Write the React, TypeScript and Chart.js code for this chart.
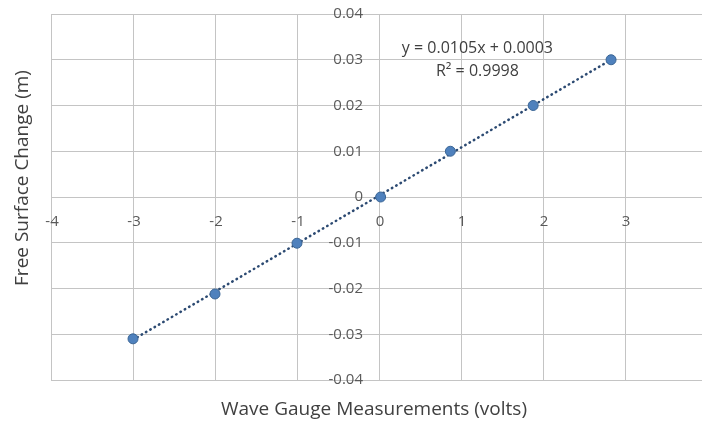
import React, { useEffect, useRef } from "react";
import { Chart, registerables } from "chart.js";

Chart.register(...registerables);

const gaugeVolts = [-3, -2, -1, 0.02, 0.87, 1.88, 2.83];
const surfaceChange = [-0.031, -0.0212, -0.0101, 0.0, 0.01, 0.02, 0.03];
const trendVolts = [-3, 2.83];
const trendChange = [-0.0312, 0.0300];
const xRange = [-4, 4];
const yRange = [-0.04, 0.04];
const equationLines = ["y = 0.0105x + 0.0003", "R² = 0.9998"];
const equationAnchorX = 1.2;
const equationAnchorY = [0.0325, 0.0274];
const xTitle = "Wave Gauge Measurements (volts)";
const yTitle = "Free Surface Change (m)";

const FONT = "'Open Sans', sans-serif";

const labelsPlugin = {
  id: "labelsPlugin",
  afterDraw(chart: any) {
    const { ctx, scales } = chart;
    const xs = scales.x;
    const ys = scales.y;
    const x0 = xs.getPixelForValue(0);
    const y0 = ys.getPixelForValue(0);
    ctx.save();
    // tick labels
    ctx.fillStyle = "#595959";
    ctx.font = `15px ${FONT}`;
    ctx.textBaseline = "middle";
    ctx.textAlign = "center";
    xs.ticks.forEach((t: any) => {
      const label = t.label != null ? String(t.label) : String(t.value);
      ctx.fillText(label, xs.getPixelForValue(t.value) + 1, y0 + 25);
    });
    ctx.textAlign = "right";
    ys.ticks.forEach((t: any) => {
      const label = t.label != null ? String(t.label) : String(t.value);
      ctx.fillText(label, x0 - 16, ys.getPixelForValue(t.value));
    });
    // equation
    ctx.fillStyle = "#404040";
    ctx.font = `16px ${FONT}`;
    ctx.textAlign = "center";
    equationLines.forEach((line, i) => {
      ctx.fillText(line, xs.getPixelForValue(equationAnchorX), ys.getPixelForValue(equationAnchorY[i]));
    });
    // axis titles
    ctx.font = `19px ${FONT}`;
    ctx.fillText(xTitle, 374, 410);
    ctx.translate(23, 178);
    ctx.rotate(-Math.PI / 2);
    ctx.fillText(yTitle, 0, 0);
    ctx.restore();
  },
};

export default function App() {
  const ref = useRef<HTMLCanvasElement>(null);
  useEffect(() => {
    const canvas = ref.current;
    if (!canvas) return;
    const chart = new Chart(canvas, {
      type: "scatter",
      data: {
        datasets: [
          {
            label: "Measurements",
            data: gaugeVolts.map((x, i) => ({ x, y: surfaceChange[i] })),
            backgroundColor: "#4F81BD",
            borderColor: "#3A6595",
            borderWidth: 1,
            pointRadius: 5,
            order: 0,
          },
          {
            label: "Trend",
            data: trendVolts.map((x, i) => ({ x, y: trendChange[i] })),
            showLine: true,
            pointRadius: 0,
            borderColor: "#2C4A72",
            borderWidth: 2.5,
            borderDash: [0.5, 4.5],
            borderCapStyle: "round",
            order: 1,
          } as any,
        ],
      },
      options: {
        responsive: false,
        animation: false,
        layout: { padding: { left: 51, top: 14, right: 13, bottom: 45 } },
        plugins: { legend: { display: false }, tooltip: { enabled: false } },
        scales: {
          x: {
            type: "linear",
            min: xRange[0],
            max: xRange[1],
            ticks: { stepSize: 1, display: false },
            grid: { color: "#c4c4c4", lineWidth: 1, drawTicks: false },
            border: { display: false },
          },
          y: {
            type: "linear",
            min: yRange[0],
            max: yRange[1],
            ticks: { stepSize: 0.01, display: false },
            grid: { color: "#c4c4c4", lineWidth: 1, drawTicks: false },
            border: { display: false },
          },
        },
      },
      plugins: [labelsPlugin],
    });
    return () => chart.destroy();
  }, []);
  return (
    <div style={{ position: "fixed", left: 0, top: 0, width: 702, height: 425, overflow: "hidden", background: "#ffffff" }}>
      <canvas ref={ref} width={720} height={425} style={{ display: "block" }} />
    </div>
  );
}
